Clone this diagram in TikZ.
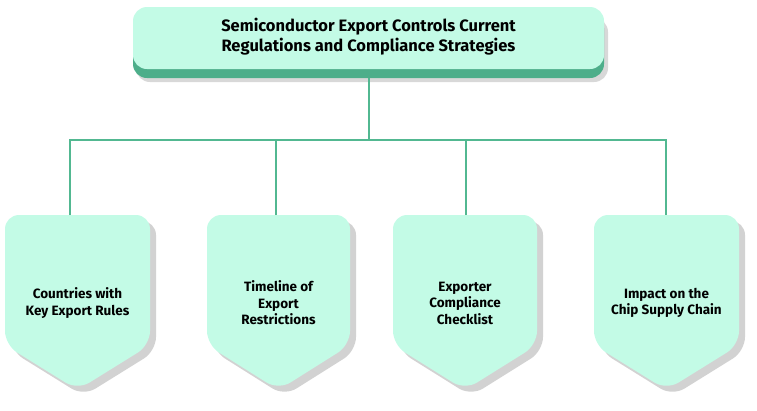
\documentclass[tikz,border=0pt]{standalone}
\usepackage{fontspec}
\setmainfont{Fira Sans}
\usetikzlibrary{calc}
\definecolor{mint}{HTML}{C3FBE6}
\definecolor{dgreen}{HTML}{4DAE8A}
\definecolor{lgreen}{HTML}{52B891}
\tikzset{
  conn/.style={lgreen, line width=1.2pt},
  lbl/.style={font=\bfseries\fontsize{13.5}{16.5}\selectfont, align=center, text=black},
}
\newcommand{\pent}[2]{% left x, right x
  \fill[black!35, opacity=0.5, rounded corners=14pt] (#1+6,221) -- (#2+6,221) -- (#2+6,351) -- ({(#1+#2)/2+6},396) -- (#1+6,351) -- cycle;
  \fill[mint, rounded corners=14pt] (#1,215) -- (#2,215) -- (#2,345) -- ({(#1+#2)/2},390) -- (#1,345) -- cycle;
}
\begin{document}
\begin{tikzpicture}[x=1pt,y=-1pt]
\useasboundingbox (0,0) rectangle (757,410);
% top box
\fill[black!30, opacity=0.5, rounded corners=14pt] (136,18) rectangle (608,82);
\fill[dgreen, rounded corners=14pt] (133,14) rectangle (604,78);
\fill[mint, rounded corners=14pt] (133,7) rectangle (604,69);
\node[lbl, font=\bfseries\fontsize{16.5}{20}\selectfont] (top) at (368.5,37) {Semiconductor Export Controls Current\\Regulations and Compliance Strategies};
\coordinate (tb) at (369,78);
\coordinate (bus) at (369,140);
\pent{5}{150}
\pent{207}{350}
\pent{393}{537}
\pent{594}{739}
\coordinate (c1) at (70,215);
\coordinate (c2) at (276,215);
\coordinate (c3) at (466,215);
\coordinate (c4) at (666,215);
\draw[conn] (tb) -- (bus);
\draw[conn] (c1) -- (c1 |- bus) -- (c4 |- bus) -- (c4);
\draw[conn] (c2) -- (c2 |- bus);
\draw[conn] (c3) -- (c3 |- bus);
\node[lbl] (t1) at (77.5,303) {Countries with\\Key Export Rules};
\node[lbl] (t2) at (278.5,303) {Timeline of\\Export\\Restrictions};
\node[lbl] (t3) at (465,303) {Exporter\\Compliance\\Checklist};
\node[lbl] (t4) at (666.5,303) {Impact on the\\Chip Supply Chain};
\end{tikzpicture}
\end{document}
